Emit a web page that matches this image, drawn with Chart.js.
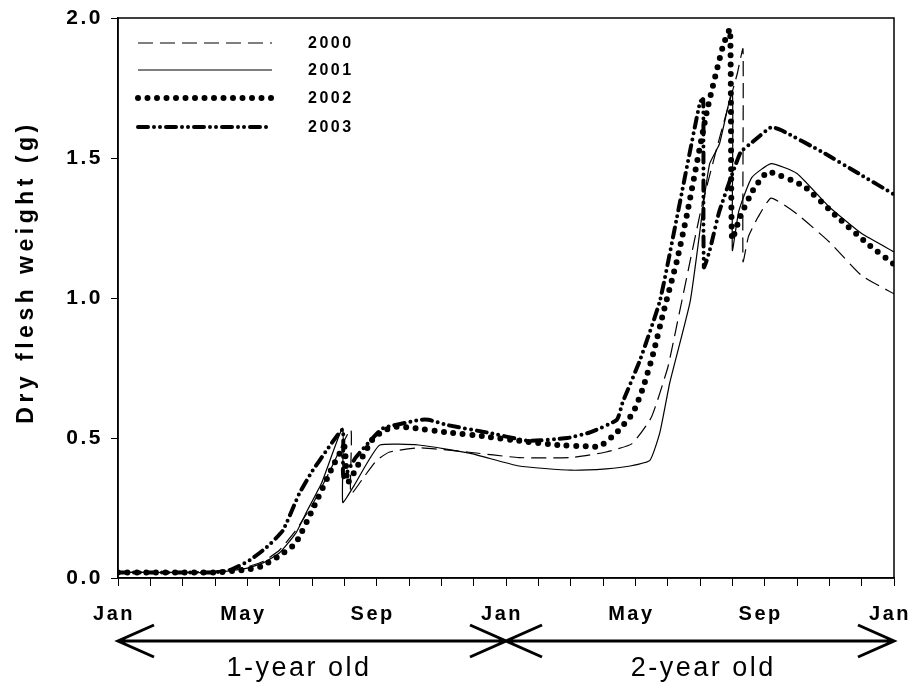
<!DOCTYPE html>
<html>
<head>
<meta charset="utf-8">
<script src="https://cdn.jsdelivr.net/npm/chart.js@4.4.1/dist/chart.umd.min.js"></script>
<style>
  html, body { margin: 0; background: #fff; }
</style>
</head>
<body>
<canvas id="chart" width="916" height="693"></canvas>
<script>
// months since January of year 1, dry flesh weight (g)
const series2000 = [[0,0.02],[2,0.02],[3,0.025],[4,0.04],[4.5,0.06],[5,0.10],[5.5,0.17],[6,0.26],[6.5,0.37],
  [7.2,0.53],[7.2,0.30],[7.6,0.36],[8.0,0.42],[8.4,0.45],[9.3,0.465],[10.8,0.45],[12.4,0.43],[14.0,0.43],
  [15.1,0.45],[15.9,0.48],[16.5,0.575],[17.0,0.75],[17.17,0.84],[17.7,1.135],[18.06,1.33],[18.6,1.57],
  [19.15,1.80],[19.33,1.89],[19.33,1.13],[19.5,1.22],[19.8,1.29],[20.2,1.357],[21.0,1.30],[22.0,1.20],
  [23.0,1.08],[24,1.015]];
const series2001 = [[0,0.02],[3,0.02],[4,0.035],[4.5,0.055],[5,0.09],[5.5,0.16],[5.85,0.24],[6.3,0.34],
  [6.95,0.535],[6.95,0.27],[7.3,0.33],[7.7,0.41],[8.1,0.475],[9.3,0.475],[10.9,0.445],[12.4,0.40],[14.0,0.385],
  [15.1,0.39],[15.84,0.40],[16.45,0.42],[16.76,0.52],[17.07,0.70],[17.7,0.99],[18.1,1.33],[18.3,1.48],
  [18.6,1.55],[19.0,1.74],[19.0,1.17],[19.2,1.31],[19.6,1.43],[20.2,1.48],[21.0,1.445],[22.0,1.325],
  [23.0,1.23],[24,1.165]];
const series2002 = [[0,0.02],[3,0.02],[4,0.03],[4.4,0.04],[5.0,0.08],[5.5,0.125],[6.04,0.25],[6.65,0.40],
  [7.0,0.47],[7.1,0.34],[7.5,0.42],[7.9,0.50],[8.3,0.53],[8.6,0.54],[9.2,0.535],[10.2,0.52],[11.4,0.505],
  [12.4,0.49],[13.6,0.475],[14.5,0.47],[14.9,0.47],[15.43,0.52],[15.93,0.59],[16.24,0.68],[16.55,0.80],
  [16.86,0.945],[17.29,1.135],[17.6,1.30],[18.22,1.67],[18.71,1.90],[18.93,1.96],[18.99,1.21],[19.24,1.29],
  [19.64,1.385],[20.1,1.45],[21.2,1.40],[22.24,1.29],[23.17,1.195],[24,1.12]];
const series2003 = [[0,0.02],[3,0.02],[3.5,0.03],[4.08,0.064],[4.6,0.11],[5.1,0.17],[5.6,0.30],[6.0,0.38],
  [6.46,0.457],[6.95,0.53],[6.97,0.36],[7.35,0.43],[7.8,0.49],[8.2,0.535],[9.34,0.565],[9.6,0.565],
  [10.2,0.546],[11.4,0.52],[12.7,0.49],[13.9,0.50],[14.6,0.52],[15.43,0.565],[15.6,0.625],[16.15,0.78],
  [16.76,0.99],[17.29,1.29],[18.0,1.70],[18.1,1.71],[18.12,1.11],[18.3,1.17],[18.6,1.31],[19.25,1.52],
  [19.55,1.55],[20.2,1.61],[20.5,1.60],[21.8,1.52],[22.9,1.445],[24,1.37]];

const seriesNames = ['2000', '2001', '2002', '2003'];
const monthLabels = ['Jan', 'May', 'Sep', 'Jan', 'May', 'Sep', 'Jan'];
const ageLabels = ['1-year old', '2-year old'];

const toPoints = s => s.map(p => ({ x: p[0], y: p[1] }));

const styles = [
  { borderWidth: 1.2, borderDash: [15, 7], borderCapStyle: 'butt' },
  { borderWidth: 1.2, borderDash: [], borderCapStyle: 'butt' },
  { borderWidth: 6, borderDash: [0, 9.5], borderCapStyle: 'round' },
  { borderWidth: 4, borderDash: [10, 6, 0, 6, 0, 6], borderCapStyle: 'round' }
];

const datasets = [series2000, series2001, series2002, series2003].map((s, i) => Object.assign({
  label: seriesNames[i],
  data: toPoints(s),
  borderColor: '#000',
  pointRadius: 0,
  tension: 0.15,
  fill: false
}, styles[i]));

// legend, frame, y title and age arrows
const extras = {
  id: 'extras',
  beforeDraw(chart) { chart.ctx.letterSpacing = '2.5px'; },
  afterDraw(chart) {
    const { ctx, chartArea: a, scales: { x } } = chart;
    ctx.save();
    ctx.letterSpacing = '0px';
    ctx.strokeStyle = '#000';
    ctx.fillStyle = '#000';
    ctx.lineWidth = 1.5;
    ctx.strokeRect(a.left, a.top, a.right - a.left, a.bottom - a.top);

    // legend
    const rows = [43, 70, 98, 127];
    chart.data.datasets.forEach((d, i) => {
      ctx.save();
      ctx.lineWidth = d.borderWidth;
      ctx.setLineDash(d.borderDash);
      ctx.lineCap = d.borderCapStyle;
      ctx.beginPath();
      ctx.moveTo(138, rows[i]);
      ctx.lineTo(272, rows[i]);
      ctx.stroke();
      ctx.restore();
      ctx.font = 'bold 16px "Liberation Sans", Arial, sans-serif';
      ctx.letterSpacing = '2.5px';
      ctx.textBaseline = 'middle';
      ctx.textAlign = 'left';
      ctx.fillText(d.label, 308, rows[i] + 1);
    });

    // y axis title
    ctx.save();
    ctx.translate(27, 272);
    ctx.rotate(-Math.PI / 2);
    ctx.font = 'bold 23px "Liberation Sans", Arial, sans-serif';
    ctx.letterSpacing = '4.5px';
    ctx.textAlign = 'center';
    ctx.textBaseline = 'middle';
    ctx.fillText('Dry flesh weight (g)', 0, 0);
    ctx.restore();

    // age arrows
    const yA = 641, hx = 36, hy = 16;
    const x0 = x.getPixelForValue(0), x1 = x.getPixelForValue(12), x2 = x.getPixelForValue(24);
    ctx.lineWidth = 3;
    ctx.setLineDash([]);
    ctx.beginPath();
    ctx.moveTo(x0, yA); ctx.lineTo(x2, yA);
    [[x0, 1], [x1, -1], [x1, 1], [x2, -1]].forEach(([px, dir]) => {
      ctx.moveTo(px + dir * hx, yA - hy);
      ctx.lineTo(px, yA);
      ctx.lineTo(px + dir * hx, yA + hy);
    });
    ctx.stroke();

    ctx.font = '27px "Liberation Sans Narrow", "Liberation Sans", Arial, sans-serif';
    ctx.letterSpacing = '2.5px';
    ctx.textAlign = 'center';
    ctx.textBaseline = 'middle';
    ctx.fillText(ageLabels[0], x.getPixelForValue(5.6), 669);
    ctx.fillText(ageLabels[1], x.getPixelForValue(18.1), 669);
    ctx.restore();
  }
};

new Chart(document.getElementById('chart'), {
  type: 'line',
  data: { datasets },
  options: {
    responsive: false,
    animation: false,
    layout: { padding: { top: 18, right: 22, left: 0, bottom: 0 } },
    plugins: { legend: { display: false }, tooltip: { enabled: false } },
    scales: {
      x: {
        type: 'linear',
        min: 0,
        max: 24,
        afterFit: s => { s.height = 115; s.paddingLeft = 0; s.paddingRight = 0; },
        ticks: {
          stepSize: 1,
          autoSkip: false,
          maxRotation: 0,
          padding: 16,
          labelOffset: -4,
          color: '#000',
          font: { family: '"Liberation Sans", Arial, sans-serif', size: 20, weight: 'bold' },
          callback: v => (v % 4 === 0 ? monthLabels[v / 4] : '')
        },
        grid: { drawOnChartArea: false, tickLength: 8, color: '#000', lineWidth: 1 },
        border: { color: '#000', width: 1.5 }
      },
      y: {
        min: 0,
        max: 2,
        afterFit: s => { s.width = 118; s.paddingTop = 0; s.paddingBottom = 0; },
        ticks: {
          stepSize: 0.5,
          padding: 8,
          color: '#000',
          font: { family: '"Liberation Sans", Arial, sans-serif', size: 21, weight: 'bold' },
          callback: v => v.toFixed(1)
        },
        grid: { drawOnChartArea: false, tickLength: 7, color: '#000', lineWidth: 1 },
        border: { color: '#000', width: 1.5 }
      }
    }
  },
  plugins: [extras]
});
</script>
</body>
</html>
